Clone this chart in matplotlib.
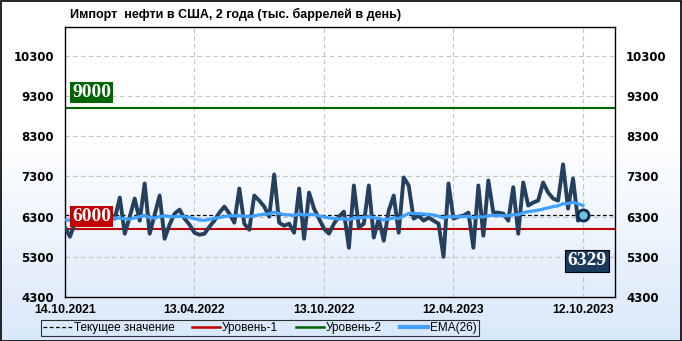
import numpy as np
import pandas as pd
import matplotlib
matplotlib.use("Agg")
import matplotlib.pyplot as plt
import matplotlib.dates as mdates
from matplotlib.lines import Line2D


title = "Импорт  нефти в США, 2 года (тыс. баррелей в день)"
start_date = "2021-10-14"
tick_dates = ["2021-10-14", "2022-04-13", "2022-10-13", "2023-04-12", "2023-10-12"]
y_ticks = [4300, 5300, 6300, 7300, 8300, 9300, 10300]

# weekly imports, thousand barrels per day
imports = [
    6033, 5800, 6150, 6250, 6200, 6350, 6100, 6300, 6200, 6400,
    6250, 6775, 5875, 6300, 6750, 6200, 7125, 5875, 6350, 6825,
    5750, 6100, 6375, 6475, 6250, 6100, 5900, 5850, 5875, 6050,
    6200, 6400, 6550, 6375, 6150, 7000, 6125, 5975, 6825, 6700,
    6550, 6300, 7350, 6150, 6075, 6125, 5900, 7000, 5750, 6900,
    6500, 6250, 6000, 5875, 6125, 6300, 6425, 5525, 7075, 6033,
    6125, 7075, 5780, 6250, 5700, 6450, 6825, 5900, 7275, 7075,
    6250, 6325, 6200, 6275, 6200, 6125, 5300, 7125, 6250, 6300,
    6325, 6400, 5525, 7075, 5825, 7200, 6400, 6400, 6375, 6200,
    7033, 5875, 7150, 6575, 6650, 6700, 7150, 6900, 6750, 6700,
    7600, 6500, 7250, 6200, 6329,
]

# EMA(26) as drawn on the chart
ema26 = [
    6215, 6210, 6200, 6210, 6230, 6240, 6250, 6260, 6250, 6260,
    6265, 6265, 6245, 6240, 6270, 6300, 6325, 6280, 6265, 6300,
    6320, 6300, 6300, 6305, 6300, 6280, 6250, 6215, 6210, 6230,
    6260, 6280, 6300, 6320, 6320, 6330, 6310, 6295, 6320, 6345,
    6360, 6370, 6410, 6380, 6350, 6345, 6330, 6365, 6340, 6360,
    6350, 6320, 6290, 6270, 6255, 6240, 6250, 6220, 6265, 6270,
    6280, 6300, 6270, 6260, 6215, 6240, 6270, 6250, 6320, 6380,
    6380, 6375, 6365, 6355, 6340, 6310, 6265, 6300, 6300, 6300,
    6300, 6310, 6265, 6300, 6290, 6325, 6330, 6325, 6325, 6320,
    6350, 6345, 6400, 6425, 6440, 6460, 6490, 6520, 6550, 6570,
    6620, 6625, 6660, 6620, 6575,
]

level_1 = 6000
level_2 = 9000

dates = pd.date_range(start_date, periods=len(imports), freq="7D")
current = imports[-1]

W, H = 682, 341
fig = plt.figure(figsize=(W / 100, H / 100), dpi=100)

# background gradient: white at top, light blue at bottom
bg = fig.add_axes([0, 0, 1, 1], zorder=-10)
grad = np.linspace(0, 1, 256)[:, None]
top_c = np.array([1.0, 1.0, 1.0])
bot_c = np.array([0.85, 0.91, 0.98])
img = np.clip((grad[..., None] - 0.4) / 0.6, 0, 1) * (bot_c - top_c) + top_c
bg.imshow(img, aspect="auto", extent=[0, 1, 0, 1], origin="upper")
bg.set_xlim(0, 1)
bg.set_ylim(0, 1)
bg.axis("off")
fig.patches.append(plt.Rectangle((0.5 / W, 0.5 / H), 1 - 1.5 / W, 1 - 1.5 / H,
                                 transform=fig.transFigure, fill=False,
                                 edgecolor="black", linewidth=1.2))

x0, x1 = 65, 615
y0, y1 = 27, 297
ax = fig.add_axes([x0 / W, 1 - y1 / H, (x1 - x0) / W, (y1 - y0) / H])
ax.patch.set_alpha(0)

navy = "#253f5f"
ax.plot(dates, imports, color=navy, lw=2.8, solid_joinstyle="round", zorder=3)
ax.plot(dates, ema26, color="#3ea0ff", lw=2.3, zorder=4)
ax.axhline(level_1, color="#c00000", lw=1.5, zorder=2)
ax.axhline(level_2, color="#006400", lw=1.5, zorder=2)
ax.axhline(current, color="black", lw=0.9, ls=(0, (3, 2)), zorder=2)
ax.plot(dates[-1], current, "o", ms=8, mfc="#6cc4d8", mec="#0f2a50", mew=2, zorder=5)

ax.set_ylim(4300, 11020)
ax.set_xlim(dates[0], dates[0] + pd.Timedelta(days=773))
ax.set_yticks(y_ticks)
ax.set_xticks(pd.to_datetime(tick_dates))
ax.xaxis.set_major_formatter(mdates.DateFormatter("%d.%m.%Y"))
ax.grid(True, color="#c4c4c4", ls=(0, (4, 3)), lw=0.8)
ax.tick_params(axis="y", length=0, labelsize=8.5, pad=8,
               labelleft=True, labelright=True)
ax.tick_params(axis="x", length=0, pad=5)
for lab in ax.get_yticklabels() + ax.yaxis.get_ticklabels(which="both"):
    lab.set_fontweight("bold")
for lab in ax.get_xticklabels():
    lab.set_family("Liberation Sans")
    lab.set_fontweight("bold")
    lab.set_fontsize(8.8)
for s in ax.spines.values():
    s.set_color("black")
    s.set_linewidth(1.0)

# value boxes
box_font = dict(family="Liberation Serif", fontsize=14, fontweight="bold",
                color="white", zorder=10)
ax.text(0.013, 9440, f"{level_2}", transform=ax.get_yaxis_transform(),
        va="center_baseline", ha="left",
        bbox=dict(boxstyle="square,pad=0.12", fc="#006400", ec="none"), **box_font)
ax.text(0.013, 6353, f"{level_1}", transform=ax.get_yaxis_transform(),
        va="center_baseline", ha="left",
        bbox=dict(boxstyle="square,pad=0.12", fc="#c00000", ec="none"), **box_font)
ax.text(0.985, 5246, f"{current}", transform=ax.get_yaxis_transform(),
        va="center_baseline", ha="right",
        bbox=dict(boxstyle="square,pad=0.12", fc="#1c3a5e", ec="black", lw=0.8), **box_font)

fig.text(70 / W, 1 - 14 / H, title, family="Liberation Sans", fontsize=9,
         fontweight="bold", va="center", ha="left")

handles = [
    Line2D([], [], color="black", lw=0.9, ls=(0, (3, 2))),
    Line2D([], [], color="#c00000", lw=1.8),
    Line2D([], [], color="#006400", lw=1.8),
    Line2D([], [], color="#3ea0ff", lw=3),
]
labels = ["Текущее значение", "Уровень-1", "Уровень-2", "EMA(26)"]
leg = fig.legend(handles, labels, loc="center", ncol=4,
                 bbox_to_anchor=(260 / W, 1 - 328 / H),
                 prop=dict(family="Liberation Sans", size=8.5),
                 frameon=True, fancybox=False, edgecolor="black",
                 handlelength=2.4, handletextpad=0.15, columnspacing=1.5,
                 borderpad=0.2, borderaxespad=0)
leg.get_frame().set_facecolor("none")
leg.get_frame().set_linewidth(0.8)

fig.savefig("out.png", dpi=100)
